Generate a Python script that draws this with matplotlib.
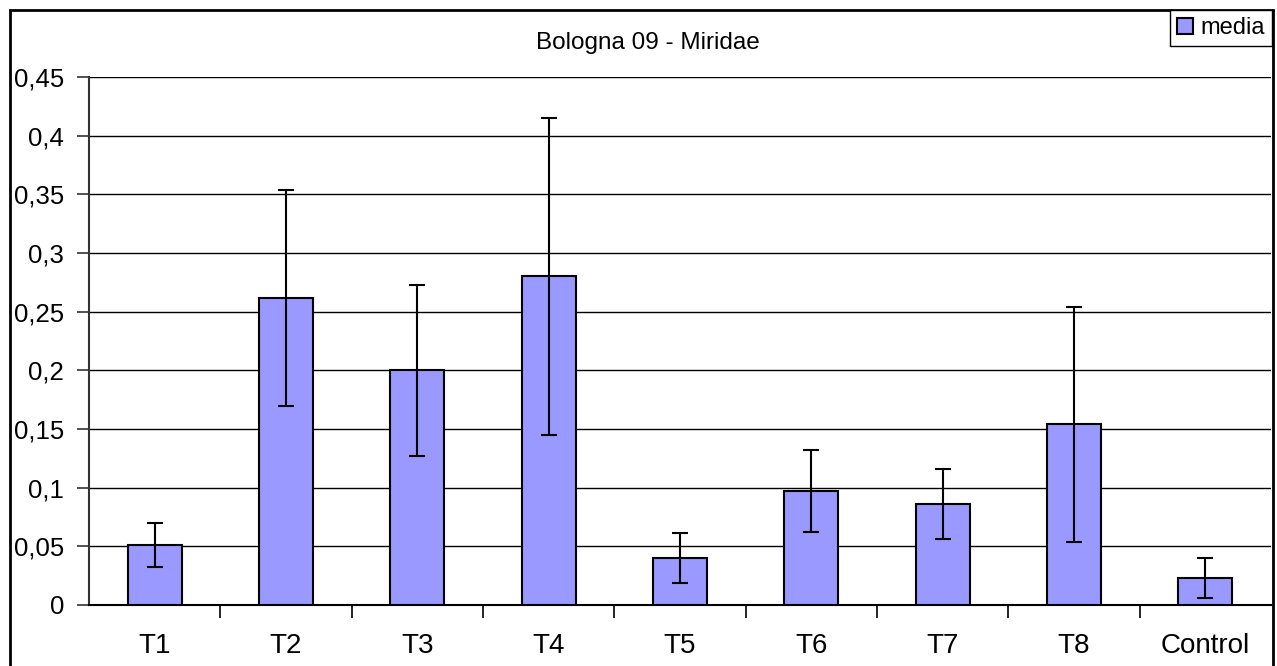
import matplotlib.pyplot as plt
from matplotlib.patches import Rectangle
from matplotlib.ticker import FixedLocator

# data
categories = ["T1", "T2", "T3", "T4", "T5", "T6", "T7", "T8", "Control"]
media = [0.051, 0.262, 0.200, 0.280, 0.040, 0.097, 0.086, 0.154, 0.023]
err = [0.019, 0.092, 0.073, 0.135, 0.021, 0.035, 0.030, 0.100, 0.017]
yticks = [0, 0.05, 0.1, 0.15, 0.2, 0.25, 0.3, 0.35, 0.4, 0.45]
ytick_labels = ["0", "0,05", "0,1", "0,15", "0,2", "0,25", "0,3", "0,35", "0,4", "0,45"]

plt.rcParams['font.family'] = ['Liberation Sans', 'DejaVu Sans']

fig = plt.figure(figsize=(12.77, 6.66), dpi=100)
ax = fig.add_axes([89 / 1277, 1 - 605 / 666, 1182 / 1277, 528 / 666])

x = list(range(len(categories)))
ax.bar(x, media, width=0.41, color="#9999FF", edgecolor="black", linewidth=1.5,
       label="media", zorder=3)
ax.errorbar(x, media, yerr=err, fmt="none", ecolor="black", elinewidth=1.5,
            capsize=5.5, capthick=1.5, zorder=4)

ax.set_xlim(-0.5, len(categories) - 0.5)
ax.set_ylim(0, 0.45)
ax.set_yticks(yticks)
ax.set_yticklabels(ytick_labels, fontsize=18.5)
ax.set_xticks(x)
ax.set_xticklabels(categories, fontsize=20)
ax.tick_params(axis="x", which="major", length=0, pad=20)
ax.xaxis.set_minor_locator(FixedLocator([i + 0.5 for i in range(len(categories) - 1)]))
ax.tick_params(axis="x", which="minor", length=9, width=1.2, direction="out", color="black")
ax.tick_params(axis="y", length=9, width=1.2, direction="out", color="#333333", pad=9)

ax.yaxis.grid(True, color="black", linewidth=1.0, zorder=0)
ax.set_axisbelow(True)
for s in ["top", "right"]:
    ax.spines[s].set_visible(False)
ax.spines["left"].set_color("#333333")
ax.spines["left"].set_linewidth(1.5)
ax.spines["bottom"].set_color("black")
ax.spines["bottom"].set_linewidth(1.5)

fig.text(648 / 1277, 1 - 43 / 666, "Bologna 09 - Miridae", ha="center", va="center", fontsize=17.5)

# outer frame of the chart
fig.patches.append(Rectangle((10 / 1277, -0.1), 1263 / 1277, 1.1 - 10 / 666,
                             transform=fig.transFigure, fill=False,
                             edgecolor="black", linewidth=2, zorder=0))

leg = fig.legend(loc="upper right", bbox_to_anchor=(1272 / 1277, 1 - 10 / 666),
                 fontsize=17, frameon=True, fancybox=False, borderpad=0.3,
                 handlelength=0.7, handleheight=0.7, handletextpad=0.3,
                 borderaxespad=0)
leg.get_frame().set_edgecolor("black")
leg.get_frame().set_linewidth(1.0)
leg.get_frame().set_facecolor("white")
leg.get_frame().set_alpha(1)

fig.savefig("out.png", dpi=100)
